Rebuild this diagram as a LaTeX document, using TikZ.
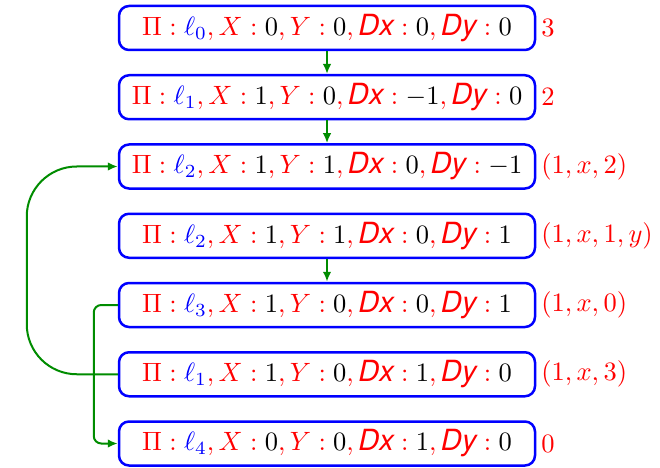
\documentclass[tikz,border=0pt]{standalone}
\usepackage{amsmath,amssymb}
\usepackage{graphicx}
\usepackage{fontspec}
\newfontfamily\dxfont[Scale=1.1]{TeX Gyre Heros}
\usepackage{tikz}
\usetikzlibrary{positioning,arrows.meta}
\usepackage{xcolor}

\newcommand{\dlab}[1]{\mbox{\dxfont\itshape #1}}
\newcommand{\cfg}[5]{\scalebox{1.06}{$\Pi:{\color{blue}\ell_{#1}},X:{\color{black}#2},Y:{\color{black}#3},\dlab{Dx}:{\color{black}#4},\dlab{Dy}:{\color{black}#5}$}}
\newcommand{\cval}[1]{\scalebox{1.06}{$#1$}}

\tikzset{
  state/.style={draw=blue,line width=1pt,rounded corners=4pt,text=red,
    minimum width=166.4pt,minimum height=17.6pt,inner sep=0pt},
  cost/.style={text=red,inner sep=1pt},
  flow/.style={draw=green!55!black,line width=0.8pt,-{Latex[length=4pt,width=3.4pt]}}
}

\begin{document}
\begin{tikzpicture}
\useasboundingbox (0,0) rectangle (264pt,-186.8pt);
\node[state] (s0) at (130.8pt,-11.2pt) {\cfg{0}{0}{0}{0}{0}};
\node[state,below=9.1pt of s0] (s1) {\cfg{1}{1}{0}{-1}{0}};
\node[state,below=9.1pt of s1] (s2) {\cfg{2}{1}{1}{0}{-1}};
\node[state,below=9.1pt of s2] (s3) {\cfg{2}{1}{1}{0}{1}};
\node[state,below=9.1pt of s3] (s4) {\cfg{3}{1}{0}{0}{1}};
\node[state,below=9.1pt of s4] (s5) {\cfg{1}{1}{0}{1}{0}};
\node[state,below=9.1pt of s5] (s6) {\cfg{4}{0}{0}{1}{0}};
% values next to the states
\node[cost,right=0.8pt of s0] (c0) {\cval{3}};
\node[cost,right=0.8pt of s1] (c1) {\cval{2}};
\node[cost,right=0.8pt of s2] (c2) {\cval{(1,x,2)}};
\node[cost,right=0.8pt of s3] (c3) {\cval{(1,x,1,y)}};
\node[cost,right=0.8pt of s4] (c4) {\cval{(1,x,0)}};
\node[cost,right=0.8pt of s5] (c5) {\cval{(1,x,3)}};
\node[cost,right=0.8pt of s6] (c6) {\cval{0}};
\draw[flow] (s0) -- (s1);
\draw[flow] (s1) -- (s2);
\draw[flow] (s3) -- (s4);
\draw[flow,rounded corners=20pt] (s5.west) -- ++(-36.4pt,0) |- (s2.west);
\draw[flow,rounded corners=3pt] (s4.west) -- ++(-9.6pt,0) |- (s6.west);
\end{tikzpicture}
\end{document}
